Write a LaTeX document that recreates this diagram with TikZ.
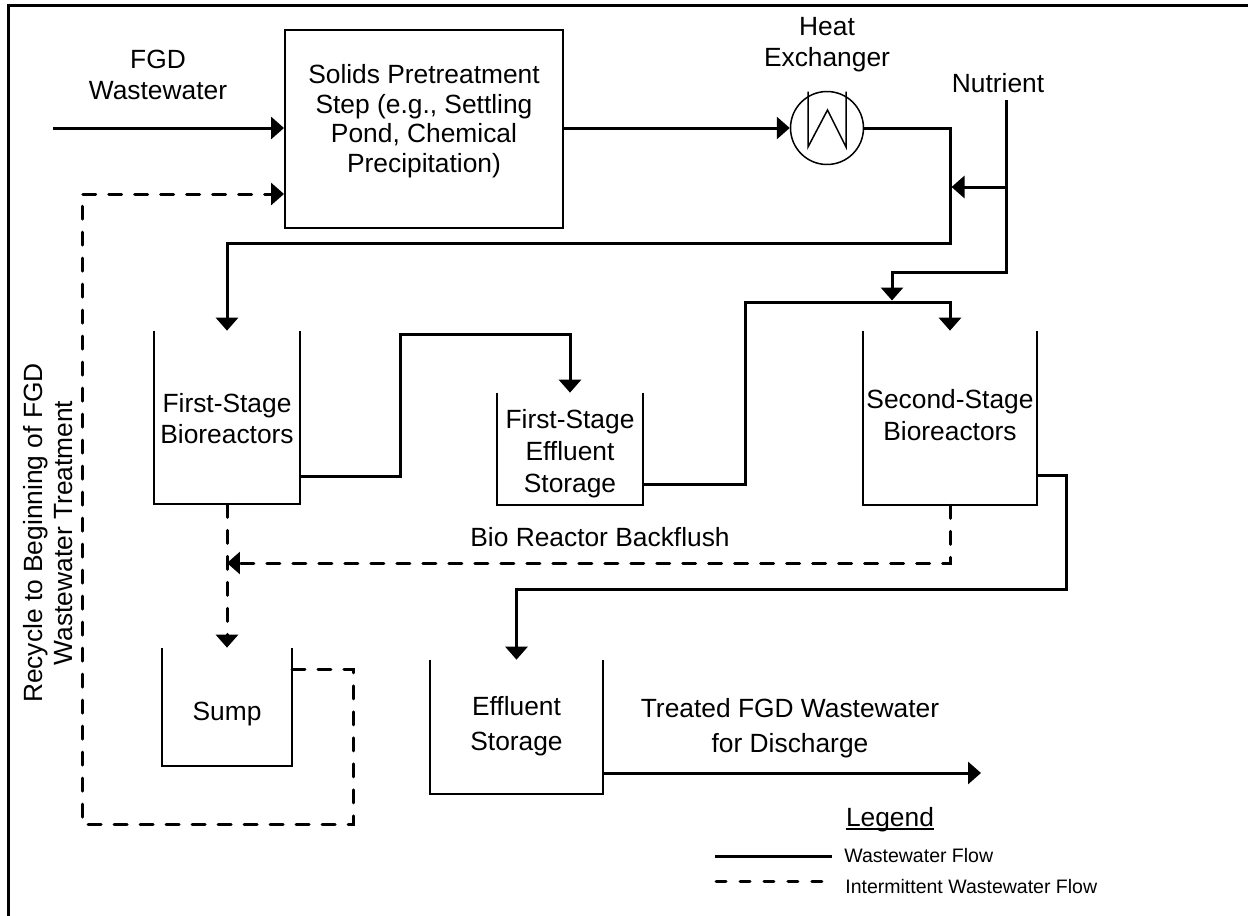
\documentclass[tikz,border=0pt]{standalone}
\usepackage{fontspec}
\setmainfont{Liberation Sans}
\usetikzlibrary{arrows.meta,calc}
\begin{document}
\begin{tikzpicture}[x=0.02cm,y=-0.02cm,
  txt/.style={anchor=base,inner sep=0,font=\fontsize{15}{18}\selectfont},
  legtxt/.style={anchor=base west,inner sep=0,font=\fontsize{11.1}{13}\selectfont},
  pipe/.style={line width=0.06cm},
  flow/.style={pipe,-{Triangle[length=0.26cm,width=0.44cm]}},
  ipipe/.style={line width=0.06cm,dash pattern=on 0.26cm off 0.26cm,line cap=round},
  iflow/.style={ipipe,-{Triangle[length=0.26cm,width=0.44cm]}},
  vessel/.style={rectangle,inner sep=0},
  wall/.style={line width=0.04cm},
  thin/.style={line width=0.03cm},
]
\useasboundingbox (0,0) rectangle (1248,916);
% frame
\draw[line width=0.05cm] (8.5,916) -- (8.5,5.5) -- (1248,5.5);

% nodes
\node[draw,line width=0.04cm,rectangle,inner sep=0,minimum width=5.56cm,minimum height=3.96cm] (pre) at (424,129) {};
\node[thin,draw,circle,inner sep=0,minimum size=1.46cm] (hx) at (827,128) {};
\node[vessel,minimum width=2.92cm,minimum height=3.46cm] (fsb) at (227,417.5) {};
\node[vessel,minimum width=2.92cm,minimum height=2.24cm] (fse) at (570,449) {};
\node[vessel,minimum width=3.48cm,minimum height=3.48cm] (ssb) at (950,418) {};
\node[vessel,minimum width=2.6cm,minimum height=2.36cm] (sump) at (227,707) {};
\node[vessel,minimum width=3.46cm,minimum height=2.68cm] (eff) at (516.5,727) {};

% vessel walls
\foreach \v in {fsb,fse,ssb,sump,eff}
  \draw[wall] (\v.north west) -- (\v.south west) -- (\v.south east) -- (\v.north east);

% heat exchanger coil
\draw[thin] ($(hx.center)+(-19,-36.5)$) -- ($(hx.center)+(-19,19)$) -- ($(hx.center)+(0.5,-18)$) -- ($(hx.center)+(19,19)$) -- ($(hx.center)+(19,-36.5)$);

% texts
\node[txt] (t1) at (158,68) {FGD};
\node[txt] (t2) at (158,99) {Wastewater};
\node[txt] (p1) at (424,83) {Solids Pretreatment};
\node[txt] (p2) at (424,113) {Step (e.g., Settling};
\node[txt] (p3) at (424,142) {Pond, Chemical};
\node[txt] (p4) at (424,172) {Precipitation)};
\node[txt] (h1) at (827,35) {Heat};
\node[txt] (h2) at (827,66) {Exchanger};
\node[txt] (n1) at (998,92) {Nutrient};
\node[txt] (f1) at (227,412) {First-Stage};
\node[txt] (f2) at (227,443) {Bioreactors};
\node[txt] (e1) at (570,428) {First-Stage};
\node[txt] (e2) at (570,460) {Effluent};
\node[txt] (e3) at (570,492) {Storage};
\node[txt] (s1) at (950,408) {Second-Stage};
\node[txt] (s2) at (950,440) {Bioreactors};
\node[txt] (bf) at (600,546) {Bio Reactor Backflush};
\node[txt] (su) at (227,720) {Sump};
\node[txt] (ef1) at (516.5,715) {Effluent};
\node[txt] (ef2) at (516.5,750) {Storage};
\node[txt] (tr1) at (790,717) {Treated FGD Wastewater};
\node[txt] (tr2) at (790,752) {for Discharge};
\node[txt,rotate=90] (r1) at (42,533) {Recycle to Beginning of FGD};
\node[txt,rotate=90] (r2) at (72,533) {Wastewater Treatment};

% connectors
\coordinate (in) at (53,128);
\draw[flow] (in) -- (in -| pre.west);
\draw[flow] (pre.east |- hx.west) -- (hx.west);
\coordinate (hxr) at (950,128);
\coordinate (hxd) at (950,243);
\draw[flow] (hx.east) -- (hxr) -- (hxd) -| (fsb.north);
\coordinate (nut) at (1006,100);
\coordinate (nutb) at (892,272);
\coordinate (nutt) at (892,300.5);
\draw[flow] (nut) |- (nutb) -- (nutt);
\coordinate (nutj) at (1006,187);
\coordinate (nutk) at (951.5,187);
\draw[flow] (nutj) -- (nutk);
\coordinate (fo1) at (400,476);
\draw[flow] (fsb.east |- fo1) -- (fo1) |- (fse.north |- 0,334) -- (fse.north);
\coordinate (eo1) at (745,484);
\draw[flow] (fse.east |- eo1) -- (eo1) |- (ssb.north |- 0,302) -- (ssb.north);
\coordinate (so1) at (1066,475);
\coordinate (so2) at (1066,589);
\draw[flow] (ssb.east |- so1) -- (so1) -- (so2) -| (eff.north);
\coordinate (tro) at (981,773);
\draw[flow] (eff.east |- tro) -- (tro);
\coordinate (bfj) at (227,563);
\draw[iflow] (ssb.south) |- (bfj);
\draw[iflow] (fsb.south) -- (sump.north);
\coordinate (rc1) at (353,824);
\coordinate (rc0) at (82,824);
\coordinate (sumpo) at (292,669);
\draw[iflow] (sumpo) -| (rc1) -- (rc0) |- ($(pre.west)+(0,65)$);

% legend
\node[txt] (lg) at (890,826) {Legend};
\draw[line width=0.025cm] ($(lg.base west)+(0,3)$) -- ($(lg.base east)+(0,3)$);
\coordinate (l1a) at (715,856);
\coordinate (l1b) at (832,856);
\draw[pipe] (l1a) -- (l1b);
\coordinate (l2a) at (716,881);
\coordinate (l2b) at (828,881);
\draw[ipipe,dash pattern=on 0.2cm off 0.28cm] (l2a) -- (l2b);
\node[legtxt] (lw) at (844,862) {Wastewater Flow};
\node[legtxt] (li) at (845,893) {Intermittent Wastewater Flow};
\end{tikzpicture}
\end{document}
